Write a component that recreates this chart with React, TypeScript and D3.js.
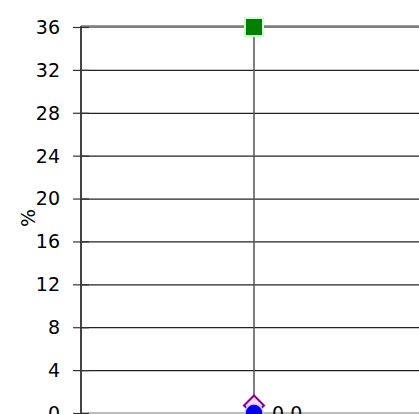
import * as d3 from "d3";
import { useEffect, useRef } from "react";

const categories = ["A"];
const maxValues = [36];
const markValues = [0.8];
const minValues = [0];
const minLabels = ["0.0"];
const yTicks = [0, 4, 8, 12, 16, 20, 24, 28, 32, 36];

const W = 419;
const H = 414;

const App = () => {
  const ref = useRef<SVGSVGElement>(null);

  useEffect(() => {
    const svg = d3.select(ref.current);
    svg.selectAll("*").remove();

    const left = 81, right = 427, top = 27, bottom = 413;
    const font = "'Comic Sans MS', 'DejaVu Sans', sans-serif";

    const x = d3.scaleBand().domain(categories).range([left, right]);
    const y = d3.scaleLinear().domain([0, 36]).range([bottom, top]);

    // grid lines
    svg.append("g")
      .selectAll("line")
      .data(yTicks.filter((t) => t > 0 && t < 36))
      .enter()
      .append("line")
      .attr("x1", left)
      .attr("x2", W)
      .attr("y1", (d) => y(d) + 0.5)
      .attr("y2", (d) => y(d) + 0.5)
      .attr("stroke", "#222")
      .attr("stroke-width", 1.2);

    // top frame line
    svg.append("line")
      .attr("x1", left).attr("x2", W)
      .attr("y1", y(36) - 0.5).attr("y2", y(36) - 0.5)
      .attr("stroke", "#999").attr("stroke-width", 3);
    svg.append("line")
      .attr("x1", left).attr("x2", W)
      .attr("y1", y(36)).attr("y2", y(36))
      .attr("stroke", "#666").attr("stroke-width", 1);

    // bottom line
    svg.append("line")
      .attr("x1", left).attr("x2", W)
      .attr("y1", bottom).attr("y2", bottom)
      .attr("stroke", "#bbb").attr("stroke-width", 2);

    // y axis
    const axis = svg.append("g").attr("transform", `translate(${left},0)`);
    axis.append("line")
      .attr("x1", 0).attr("x2", 0)
      .attr("y1", top - 1).attr("y2", bottom)
      .attr("stroke", "#444").attr("stroke-width", 2);
    axis.selectAll(".tick")
      .data(yTicks)
      .enter()
      .append("line")
      .attr("x1", -8).attr("x2", 8)
      .attr("y1", (d) => y(d) + 0.5)
      .attr("y2", (d) => y(d) + 0.5)
      .attr("stroke", "#333").attr("stroke-width", 1.2);
    axis.selectAll("text")
      .data(yTicks)
      .enter()
      .append("text")
      .attr("x", -21)
      .attr("y", (d) => y(d))
      .attr("dy", "0.36em")
      .attr("text-anchor", "end")
      .attr("font-family", font)
      .attr("font-size", 19)
      .attr("fill", "#000")
      .text((d) => d);

    svg.append("text")
      .attr("transform", `translate(35,${y(18.2)}) rotate(-90)`)
      .attr("text-anchor", "middle")
      .attr("font-family", font)
      .attr("font-size", 19)
      .text("%");

    const cx = (d: string) => (x(d) as number) + x.bandwidth() / 2;

    // whisker
    svg.selectAll(".whisker")
      .data(categories)
      .enter()
      .append("line")
      .attr("x1", cx).attr("x2", cx)
      .attr("y1", (_, i) => y(maxValues[i]))
      .attr("y2", (_, i) => y(minValues[i]))
      .attr("stroke", "#555").attr("stroke-width", 1.5);

    // diamond
    svg.selectAll(".diamond")
      .data(categories)
      .enter()
      .append("path")
      .attr("d", "M0,-10L10,0L0,10L-10,0Z")
      .attr("transform", (d, i) => `translate(${cx(d)},${y(markValues[i]) + 1})`)
      .attr("fill", "#ffd6f0")
      .attr("stroke", "#8b008b")
      .attr("stroke-width", 2);

    // min circle
    svg.selectAll(".minpt")
      .data(categories)
      .enter()
      .append("circle")
      .attr("cx", cx)
      .attr("cy", (_, i) => y(minValues[i]))
      .attr("r", 9)
      .attr("fill", "#0000ee")
      .attr("stroke", "#ccccff")
      .attr("stroke-width", 1.5);

    svg.selectAll(".minlbl")
      .data(categories)
      .enter()
      .append("text")
      .attr("x", (d) => cx(d) + 18)
      .attr("y", (_, i) => y(minValues[i]))
      .attr("dy", "0.36em")
      .attr("font-family", font)
      .attr("font-size", 19)
      .text((_, i) => minLabels[i]);

    // max square
    svg.selectAll(".maxpt")
      .data(categories)
      .enter()
      .append("rect")
      .attr("x", (d) => cx(d) - 9)
      .attr("y", (_, i) => y(maxValues[i]) - 9)
      .attr("width", 18)
      .attr("height", 18)
      .attr("fill", "#008000")
      .attr("stroke", "#ccffcc")
      .attr("stroke-width", 2);
  }, []);

  return (
    <svg
      ref={ref}
      width={W}
      height={H}
      style={{ position: "absolute", left: 0, top: 0, background: "#fff" }}
    />
  );
};

export default App;
